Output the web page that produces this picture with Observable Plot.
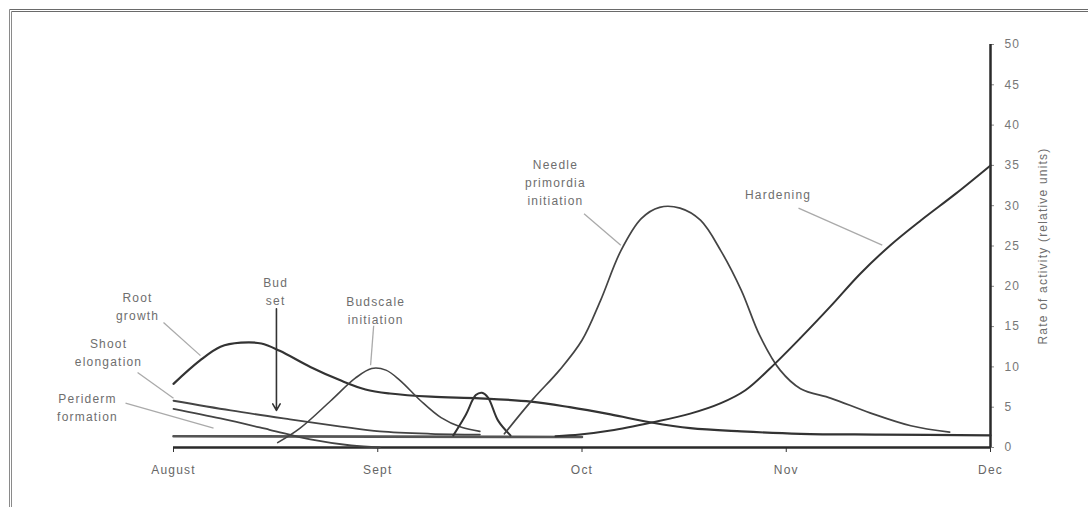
<!DOCTYPE html>
<html>
<head>
<meta charset="utf-8">
<script src="https://cdn.jsdelivr.net/npm/d3@7"></script>
<script src="https://cdn.jsdelivr.net/npm/@observablehq/plot@0.6"></script>
<style>
  html, body { margin: 0; padding: 0; background: #fff; }
  #wrap { position: relative; width: 1088px; height: 507px; overflow: hidden; }
  #frame { position: absolute; left: 9px; top: 9px; right: -5px; bottom: -5px;
           border-top: 3px double #6a6a6a; border-left: 3px double #8a8a8a; pointer-events: none; }
  #chart { position: absolute; left: 0; top: 0; }
</style>
</head>
<body>
<div id="wrap"><div id="chart"></div><div id="frame"></div></div>
<script>
// x is months after 1 August (0 = August ... 4 = Dec); y is rate of activity (relative units)
const months = ["August", "Sept", "Oct", "Nov", "Dec"];
const yTicks = [0, 5, 10, 15, 20, 25, 30, 35, 40, 45, 50];
const yLabel = "Rate of activity (relative units)";

const rootGrowth = [[0,7.9],[0.13,10.8],[0.23,12.5],[0.33,13.0],[0.43,12.9],[0.52,12.0],[0.67,10.0],[0.82,8.3],[0.94,7.2],[1.06,6.7],[1.26,6.3],[1.5,6.1],[1.75,5.7],[1.94,5.0],[2.14,4.1],[2.34,3.1],[2.53,2.4],[2.78,2.0],[3.07,1.7],[3.46,1.6],[4.0,1.5]];
const shootElongation = [[0,5.8],[0.28,4.6],[0.57,3.5],[0.82,2.6],[1.01,2.0],[1.26,1.7],[1.5,1.6]];
const peridermFormation = [[0,4.8],[0.23,3.6],[0.47,2.2],[0.67,1.0],[0.87,0.25],[1.01,0]];
const baseline = [[0,1.4],[2.0,1.3]];
const budscaleInitiation = [[0.51,0.6],[0.62,2.4],[0.77,5.8],[0.89,8.6],[0.97,9.8],[1.04,9.6],[1.11,8.3],[1.21,5.8],[1.31,3.7],[1.41,2.5],[1.5,2.0]];
const budscaleSpike = [[1.37,1.5],[1.43,4.0],[1.48,6.5],[1.51,6.8],[1.54,6.2],[1.59,3.3],[1.65,1.5]];
const needleInitiation = [[1.62,1.7],[1.76,6.0],[1.89,9.6],[2.0,13.3],[2.09,18.2],[2.19,24.4],[2.29,28.4],[2.38,29.8],[2.48,29.7],[2.58,28.2],[2.68,24.4],[2.78,19.5],[2.87,13.9],[2.97,9.6],[3.07,7.3],[3.22,6.1],[3.41,4.3],[3.61,2.7],[3.8,1.9]];
const hardening = [[1.87,1.4],[1.99,1.6],[2.14,2.1],[2.34,3.1],[2.53,4.2],[2.68,5.5],[2.8,7.1],[2.92,9.8],[3.07,13.6],[3.22,17.6],[3.36,21.5],[3.51,25.1],[3.66,28.2],[3.83,31.5],[4.0,35.0]];

// annotation labels: [x, y, text]
const labels = [
  [-0.176, 17.7, "Root\ngrowth"],
  [-0.318, 11.9, "Shoot\nelongation"],
  [-0.421, 5.1, "Periderm\nformation"],
  [0.50, 19.5, "Bud\nset"],
  [0.99, 17.2, "Budscale\ninitiation"],
  [1.87, 33.0, "Needle\nprimordia\ninitiation"],
  [2.96, 31.5, "Hardening"]
];
// leader lines: [x1, y1, x2, y2]
const leaders = [
  [-0.049, 15.5, 0.132, 11.4],
  [-0.176, 9.3, 0.0, 6.1],
  [-0.235, 5.5, 0.196, 2.4],
  [0.98, 15.1, 0.965, 10.2],
  [2.01, 29.0, 2.19, 25.1],
  [3.06, 29.7, 3.47, 25.1]
];
const budSetArrow = [[0.504, 17.2, 0.504, 4.6]];

const curveColor = "#3a3a3a";
const lineMark = (data, opts = {}) => Plot.line(data, {x: d => d[0], y: d => d[1], curve: "catmull-rom", stroke: curveColor, strokeWidth: 1.8, ...opts});

const chart = Plot.plot({
  width: 1088,
  height: 507,
  marginLeft: 173,
  marginRight: 98,
  marginTop: 44,
  marginBottom: 60,
  x: {domain: [0, 4]},
  y: {domain: [0, 50]},
  style: {fontFamily: "'Liberation Sans', Arial, sans-serif", fontSize: "12px", letterSpacing: "1.2px", color: "#6e6e6e", background: "transparent"},
  marks: [
    Plot.axisX({ticks: [0, 1, 2, 3, 4], tickFormat: i => months[i], tickSize: 5, tickPadding: 13, stroke: "#333", fill: "#666", label: null}),
    Plot.axisY({anchor: "right", ticks: yTicks, tickSize: 3, tickPadding: 11, stroke: "#888", fill: "#777", label: null}),
    Plot.text([yLabel], {frameAnchor: "right", dx: 53, rotate: -90, textAnchor: "middle", fill: "#6e6e6e", fontSize: 12}),
    Plot.ruleY([0], {stroke: "#2a2a2a", strokeWidth: 2.5}),
    Plot.ruleX([4], {y1: 0, y2: 50, stroke: "#2a2a2a", strokeWidth: 2.5}),
    Plot.link(leaders, {x1: d => d[0], y1: d => d[1], x2: d => d[2], y2: d => d[3], stroke: "#aaa", strokeWidth: 1.3}),
    lineMark(baseline, {stroke: "#555", strokeWidth: 2.6, curve: "linear"}),
    lineMark(peridermFormation, {stroke: "#444", strokeWidth: 1.8}),
    lineMark(shootElongation, {stroke: "#444", strokeWidth: 1.8}),
    lineMark(rootGrowth, {stroke: "#333", strokeWidth: 2.2}),
    lineMark(budscaleInitiation, {stroke: "#444", strokeWidth: 1.6}),
    lineMark(budscaleSpike, {stroke: "#333", strokeWidth: 2}),
    lineMark(needleInitiation, {stroke: "#444", strokeWidth: 1.7}),
    lineMark(hardening, {stroke: "#333", strokeWidth: 2}),
    Plot.arrow(budSetArrow, {x1: d => d[0], y1: d => d[1], x2: d => d[2], y2: d => d[3], stroke: "#333", strokeWidth: 1.6, headLength: 7}),
    Plot.text(labels, {x: d => d[0], y: d => d[1], text: d => d[2], fill: "#6e6e6e", fontSize: 12, lineHeight: 1.5, textAnchor: "middle"})
  ]
});
document.getElementById("chart").appendChild(chart);
</script>
</body>
</html>
